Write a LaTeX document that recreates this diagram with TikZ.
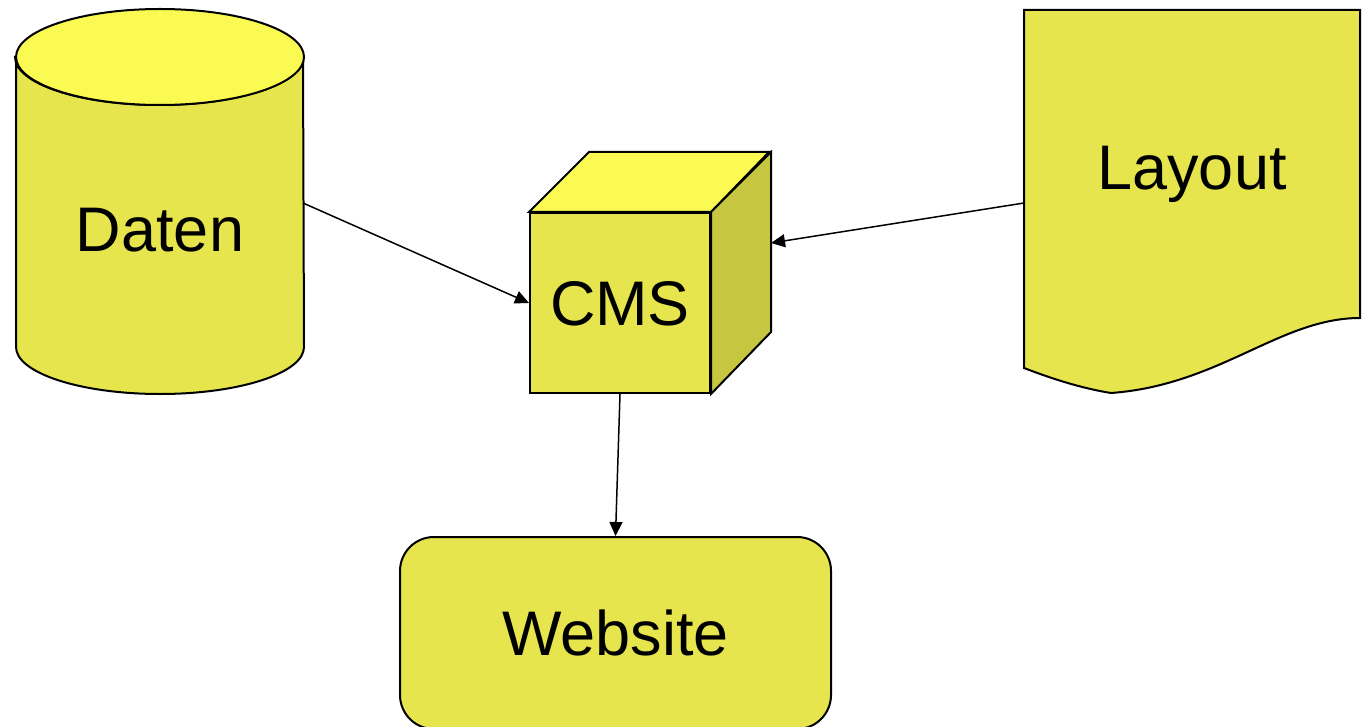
\documentclass[tikz,border=0pt]{standalone}
\usepackage{fontspec}
\setmainfont{Liberation Sans}
\usetikzlibrary{arrows.meta}
\definecolor{yfill}{RGB}{230,229,77}
\definecolor{ytop}{RGB}{250,250,82}
\definecolor{yside}{RGB}{199,198,64}
\tikzset{
  shapeline/.style={draw=black, line width=1pt, line join=miter},
  label text/.style={font=\fontsize{31.5}{38}\selectfont, text height=22.6pt, text depth=0pt},
  flow/.style={draw=black, line width=0.75pt, -{Triangle[length=7pt,width=6.5pt]}}
}
\begin{document}
\begin{tikzpicture}[x=0.5pt,y=-0.5pt]
        \useasboundingbox (0,0) rectangle (1364,727);
        % Daten
        \draw[shapeline, fill=yfill] (16,57) -- (16,347)
          arc[start angle=180, end angle=0, x radius=144, y radius=47] -- (303,57)
          arc[start angle=0, end angle=180, x radius=144, y radius=48] -- cycle;
        \draw[shapeline, fill=ytop] (160,57) ellipse [x radius=144, y radius=48];
        \node[label text] (daten) at (160,229) {Daten};
        \coordinate (datenout) at (303,203);

        % CMS
        \node[shapeline, fill=yfill, minimum width=90pt, minimum height=90pt, label text] (cms) at (620,303) {CMS};
        \draw[shapeline, fill=ytop] (cms.north west) -- ++(60,-60) -- ++(180,0) -- (cms.north east) -- cycle;
        \draw[shapeline, fill=yside] (cms.north east) -- ++(60,-60) -- ++(0,180) -- (cms.south east) -- cycle;

        % Layout
        \draw[shapeline, fill=yfill] (1024,10) -- (1360,10) -- (1360,318)
          .. controls (1280,318) and (1220,385) .. (1111,393)
          .. controls (1080,388) and (1050,378) .. (1024,368) -- cycle;
        \node[label text] (layout) at (1192,167) {Layout};
        \coordinate (layoutout) at (1024,203);

        % Website
        \node[shapeline, fill=yfill, rounded corners=17pt, minimum width=215.5pt, minimum height=96pt, label text] (web) at (615.5,633) {Website};

        \draw[flow] (datenout) -- (cms.west);
        \draw[flow] (layoutout) -- ([shift={(60,-60)}]cms.east);
        \draw[flow] (cms.south) -- (web.north);

      \end{tikzpicture}
\end{document}
